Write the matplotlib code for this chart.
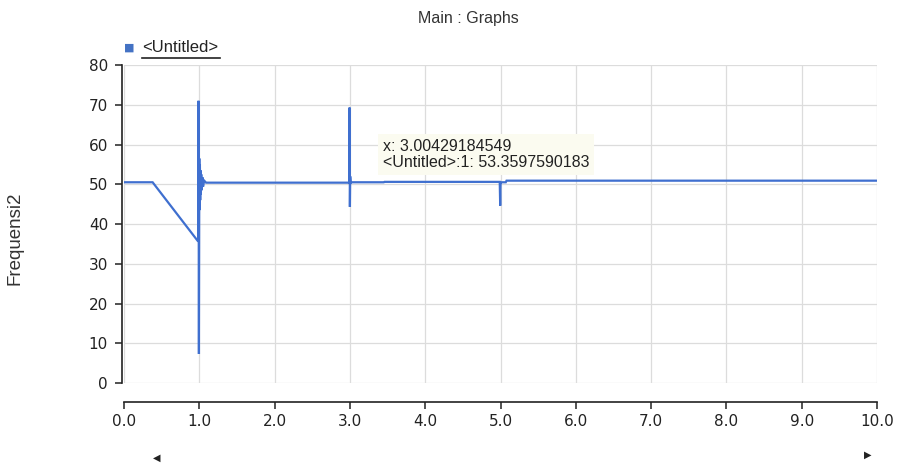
import matplotlib.pyplot as plt
from matplotlib.lines import Line2D

# Frequency trace (time in s, frequency in Hz)
t_vals = [0.0, 0.38, 0.985, 0.99, 0.995, 1.0, 1.004, 1.008, 1.012, 1.016, 1.02,
          1.026, 1.032, 1.04, 1.05, 1.065, 1.09, 2.0, 2.99, 2.996, 3.0, 3.004,
          3.01, 3.02, 3.45, 3.46, 4.0, 4.99, 4.996, 5.0, 5.004, 5.01, 5.07, 5.08,
          7.0, 10.0]
freq_vals = [50.5, 50.5, 35.6, 71.0, 7.3, 56.5, 43.5, 55.0, 46.0, 53.5, 47.5,
             52.5, 48.5, 51.8, 49.4, 50.9, 50.4, 50.4, 50.4, 69.3, 44.3, 52.0,
             50.3, 50.5, 50.5, 50.6, 50.6, 50.6, 44.6, 49.8, 50.4, 50.5, 50.5, 50.9,
             50.9, 50.9]

x_ticks = [0, 1, 2, 3, 4, 5, 6, 7, 8, 9, 10]
y_ticks = [0, 10, 20, 30, 40, 50, 60, 70, 80]

tip_x = 3.00429184549
tip_y = 53.3597590183

plt.rcParams['font.family'] = ['Liberation Sans', 'DejaVu Sans']

fig = plt.figure(figsize=(8.97, 4.65), dpi=100)
ax = fig.add_axes([124 / 897, 1 - 383 / 465, 753 / 897, 318 / 465])

ax.plot(t_vals, freq_vals, color='#3f6fcf', lw=1.6, solid_joinstyle='miter')

ax.set_xlim(0, 10)
ax.set_ylim(0, 80)
ax.set_xticks(x_ticks)
ax.set_xticklabels([f'{v:.1f}' for v in x_ticks])
ax.set_yticks(y_ticks)
ax.grid(True, color='#dcdcdc', lw=0.9)
ax.set_axisbelow(True)

for s in ['top', 'right']:
    ax.spines[s].set_visible(False)
ax.spines['bottom'].set_position(('outward', 14))
ax.spines['left'].set_position(('outward', 1.5))
for s in ['bottom', 'left']:
    ax.spines[s].set_color('#222222')
    ax.spines[s].set_linewidth(1.2)
ax.tick_params(axis='both', direction='out', length=5, width=1.1,
               labelsize=11, colors='#222222')
ax.tick_params(axis='x', pad=3)
ax.tick_params(axis='y', pad=5)
for lbl in ax.get_xticklabels() + ax.get_yticklabels():
    lbl.set_family('DejaVu Sans')

# hover readout box
ax.text(3.44, 57.5, f'x: {tip_x}\n<Untitled>:1: {tip_y}', fontsize=11.5,
        color='#222222', va='center', ha='left', linespacing=1.15,
        bbox=dict(boxstyle='square,pad=0.3', fc='#fbfbf0', ec='none'))

fig.text(468 / 897, 1 - 18 / 465, 'Main : Graphs', ha='center', va='center',
         fontsize=11.5, color='#333333')
fig.text(15 / 897, 1 - 238 / 465, 'Frequensi2', rotation=90, ha='center',
         va='center', fontsize=13.5, color='#333333')

# legend entry
fig.text(129 / 897, 1 - 48 / 465, '■', color='#4472c4', ha='center',
         va='center', fontsize=8, family='DejaVu Sans')
fig.text(142 / 897, 1 - 48 / 465, '<Untitled>', ha='left', va='center',
         fontsize=12, color='#222222')
fig.add_artist(Line2D([142 / 897, 220 / 897], [1 - 58 / 465, 1 - 58 / 465],
                      transform=fig.transFigure, color='#222222', lw=1.2))

# scroll arrows
fig.text(157 / 897, 1 - 458 / 465, '◀', ha='center', va='center',
         fontsize=7, color='#222222', family='DejaVu Sans')
fig.text(868 / 897, 1 - 455 / 465, '▶', ha='center', va='center',
         fontsize=7, color='#222222', family='DejaVu Sans')

plt.savefig('out.png', dpi=100)
